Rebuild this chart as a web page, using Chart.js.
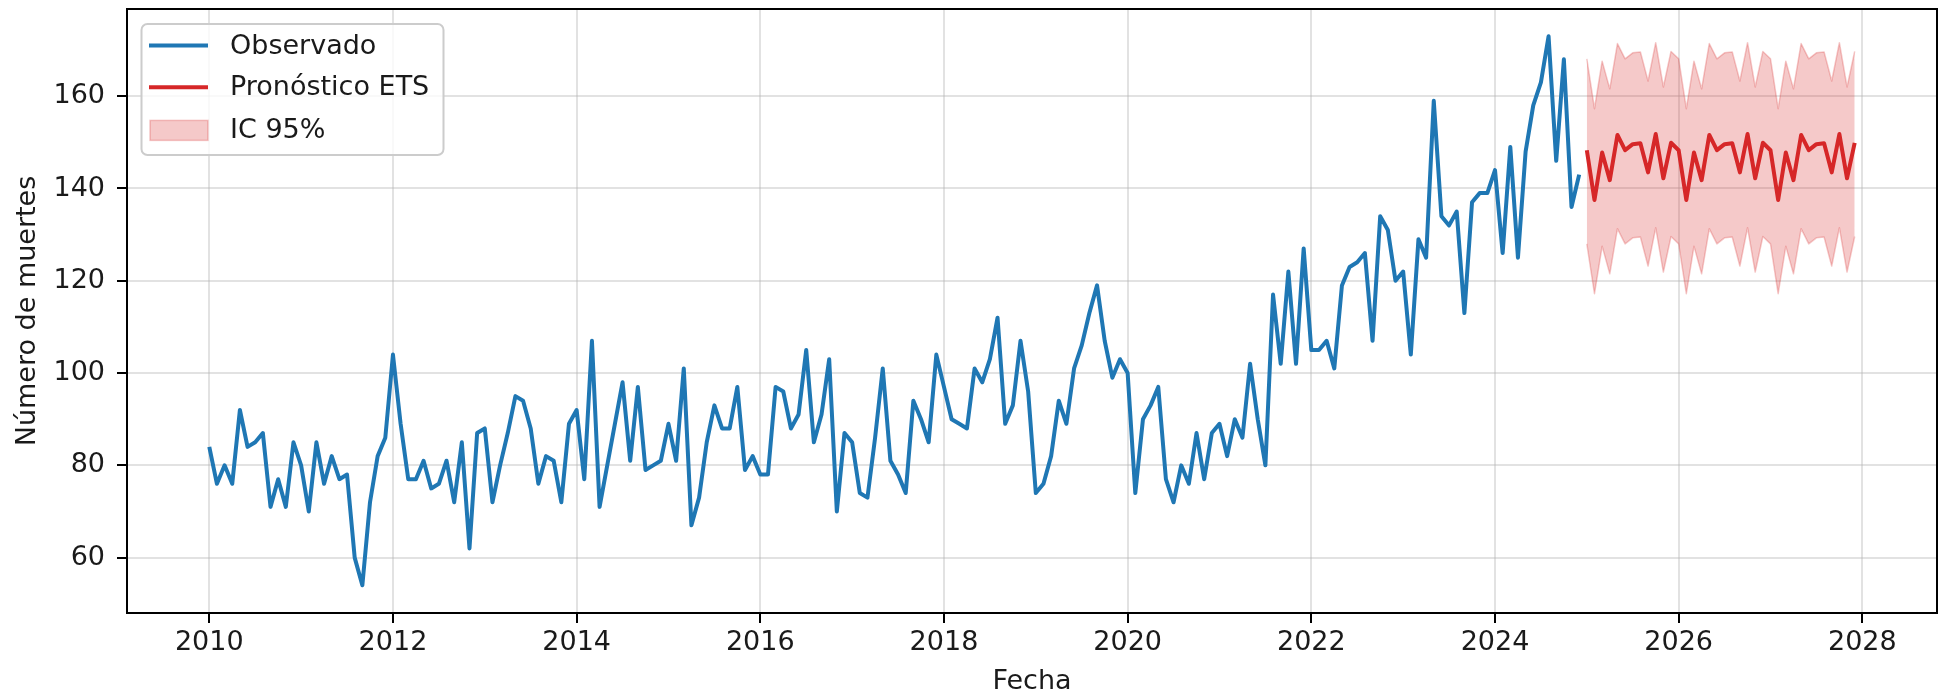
<!DOCTYPE html>
<html>
<head>
<meta charset="utf-8">
<script src="https://cdn.jsdelivr.net/npm/chart.js@4.4.1/dist/chart.umd.min.js"></script>
<style>
  html, body { margin: 0; padding: 0; background: #ffffff; }
  #wrap { width: 1938px; height: 695px; }
</style>
</head>
<body>
<div id="wrap"><canvas id="chart" width="1938" height="695"></canvas></div>
<script>
// Monthly deaths, Jan 2010 - Dec 2024
const startYear = 2010;
const observado = [
  84, 76, 80, 76, 92, 84, 85, 87, 71, 77, 71, 85,
  80, 70, 85, 76, 82, 77, 78, 60, 54, 72, 82, 86,
  104, 89, 77, 77, 81, 75, 76, 81, 72, 85, 62, 87,
  88, 72, 80, 87, 95, 94, 88, 76, 82, 81, 72, 89,
  92, 77, 107, 71, 80, 89, 98, 81, 97, 79, 80, 81,
  89, 81, 101, 67, 73, 85, 93, 88, 88, 97, 79, 82,
  78, 78, 97, 96, 88, 91, 105, 85, 91, 103, 70, 87,
  85, 74, 73, 86, 101, 81, 78, 74, 94, 90, 85, 104,
  97, 90, 89, 88, 101, 98, 103, 112, 89, 93, 107, 96,
  74, 76, 82, 94, 89, 101, 106, 113, 119, 107, 99, 103,
  100, 74, 90, 93, 97, 77, 72, 80, 76, 87, 77, 87,
  89, 82, 90, 86, 102, 90, 80, 117, 102, 122, 102, 127,
  105, 105, 107, 101, 119, 123, 124, 126, 107, 134, 131, 120,
  122, 104, 129, 125, 159, 134, 132, 135, 113, 137, 139, 139,
  144, 126, 149, 125, 148, 158, 163, 173, 146, 168, 136, 143
];

// ETS forecast, Jan 2025 - Dec 2027
const pronostico = [
  148.3, 137.5, 147.8, 141.8, 151.6, 148.3, 149.6, 149.8, 143.5, 151.8, 142.2, 149.9,
  148.3, 137.5, 147.8, 141.8, 151.6, 148.3, 149.6, 149.8, 143.5, 151.8, 142.2, 149.9,
  148.3, 137.5, 147.8, 141.8, 151.6, 148.3, 149.6, 149.8, 143.5, 151.8, 142.2, 149.9
];
const icSuperior = [
  168.1, 157.3, 167.6, 161.6, 171.4, 168.1, 169.4, 169.6, 163.3, 171.6, 162.0, 169.7,
  168.1, 157.3, 167.6, 161.6, 171.4, 168.1, 169.4, 169.6, 163.3, 171.6, 162.0, 169.7,
  168.1, 157.3, 167.6, 161.6, 171.4, 168.1, 169.4, 169.6, 163.3, 171.6, 162.0, 169.7
];
const icInferior = [
  128.0, 117.2, 127.5, 121.5, 131.3, 128.0, 129.3, 129.5, 123.2, 131.5, 121.9, 129.6,
  128.0, 117.2, 127.5, 121.5, 131.3, 128.0, 129.3, 129.5, 123.2, 131.5, 121.9, 129.6,
  128.0, 117.2, 127.5, 121.5, 131.3, 128.0, 129.3, 129.5, 123.2, 131.5, 121.9, 129.6
];

const xTicks = [2010, 2012, 2014, 2016, 2018, 2020, 2022, 2024, 2026, 2028];
const yTicks = [60, 80, 100, 120, 140, 160];

const BLUE = '#1f77b4';
const RED = '#d62728';
const BAND = 'rgba(214, 39, 40, 0.25)';
const GRID = 'rgba(176, 176, 176, 0.36)';
const TEXT = '#1a1a1a';
const FONT = 'DejaVu Sans';

// month index -> decimal year
const toPoints = (vals, offset) => vals.map((v, i) => ({ x: startYear + (offset + i) / 12, y: v }));

const spinesAndLegend = {
    id: 'spinesAndLegend',
    afterDraw(chart) {
        const { ctx, chartArea: a } = chart;
        ctx.save();
        // spines
        ctx.strokeStyle = '#000';
        ctx.lineWidth = 2;
        ctx.strokeRect(a.left, a.top, a.right - a.left, a.bottom - a.top);

        // legend box (upper left, like matplotlib)
        const bx = 141.5, by = 24, bw = 302, bh = 131;
        ctx.beginPath();
        ctx.roundRect(bx, by, bw, bh, 6);
        ctx.fillStyle = 'rgba(255,255,255,0.8)';
        ctx.fill();
        ctx.strokeStyle = '#cccccc';
        ctx.lineWidth = 2;
        ctx.stroke();

        const rows = [
            { label: 'Observado', y: 45.5, type: 'line', color: BLUE },
            { label: 'Pronóstico ETS', y: 87.3, type: 'line', color: RED },
            { label: 'IC 95%', y: 130.4, type: 'patch', color: BAND }
        ];
        ctx.font = '27px "' + FONT + '"';
        ctx.textBaseline = 'middle';
        rows.forEach(r => {
            if (r.type === 'line') {
                ctx.beginPath();
                ctx.moveTo(149, r.y);
                ctx.lineTo(208, r.y);
                ctx.strokeStyle = r.color;
                ctx.lineWidth = 4;
                ctx.stroke();
            } else {
                ctx.fillStyle = r.color;
                ctx.fillRect(150, r.y - 10, 58, 20);
                ctx.strokeStyle = r.color;
                ctx.lineWidth = 1.5;
                ctx.strokeRect(150, r.y - 10, 58, 20);
            }
            ctx.fillStyle = TEXT;
            ctx.fillText(r.label, 230, r.y + 1);
        });
        ctx.restore();
    }
};

const ctx = document.getElementById('chart').getContext('2d');
new Chart(ctx, {
    type: 'line',
    data: {
        datasets: [
            {
                label: 'Pronóstico ETS',
                data: toPoints(pronostico, observado.length),
                borderColor: RED,
                borderWidth: 4,
                pointRadius: 0,
                fill: false,
                order: 0
            },
            {
                label: 'Observado',
                data: toPoints(observado, 0),
                borderColor: BLUE,
                borderWidth: 4,
                pointRadius: 0,
                fill: false,
                order: 1
            },
            {
                label: 'IC 95%',
                data: toPoints(icSuperior, observado.length),
                borderColor: BAND,
                borderWidth: 1.5,
                backgroundColor: BAND,
                pointRadius: 0,
                fill: '+1',
                order: 2
            },
            {
                label: 'IC 95% inferior',
                data: toPoints(icInferior, observado.length),
                borderColor: BAND,
                borderWidth: 1.5,
                pointRadius: 0,
                fill: false,
                order: 3
            }
        ]
    },
    options: {
        responsive: false,
        devicePixelRatio: 1,
        animation: false,
        layout: { padding: { top: 9, right: 1, left: 0, bottom: 0 } },
        plugins: {
            legend: { display: false },
            tooltip: { enabled: false }
        },
        elements: { line: { tension: 0, borderJoinStyle: 'round', borderCapStyle: 'butt' } },
        scales: {
            x: {
                type: 'linear',
                min: 2009.104,
                max: 2028.813,
                afterBuildTicks: s => { s.ticks = xTicks.map(v => ({ value: v })); },
                afterFit: s => { s.height = 82; s.paddingLeft = 0; s.paddingRight = 0; },
                border: { display: false },
                grid: { color: GRID, lineWidth: 2, tickColor: '#000', tickWidth: 2, tickLength: 10 },
                ticks: {
                    autoSkip: false, maxRotation: 0, padding: 4, color: TEXT,
                    font: { family: FONT, size: 27 },
                    callback: v => String(v)
                },
                title: {
                    display: true, text: 'Fecha', color: TEXT,
                    font: { family: FONT, size: 27, lineHeight: 1 },
                    padding: { top: 0, bottom: 0 }
                }
            },
            y: {
                min: 48.0,
                max: 178.9,
                afterBuildTicks: s => { s.ticks = yTicks.map(v => ({ value: v })); },
                afterFit: s => { s.width = 127; s.paddingTop = 0; s.paddingBottom = 0; },
                border: { display: false },
                grid: { color: GRID, lineWidth: 2, tickColor: '#000', tickWidth: 2, tickLength: 10 },
                ticks: {
                    padding: 12, color: TEXT,
                    font: { family: FONT, size: 27 },
                    callback: v => String(v)
                },
                title: {
                    display: true, text: 'Número de muertes', color: TEXT,
                    font: { family: FONT, size: 27, lineHeight: 1.2 },
                    padding: { top: 12, bottom: 0 }
                }
            }
        }
    },
    plugins: [spinesAndLegend]
});
</script>
</body>
</html>
